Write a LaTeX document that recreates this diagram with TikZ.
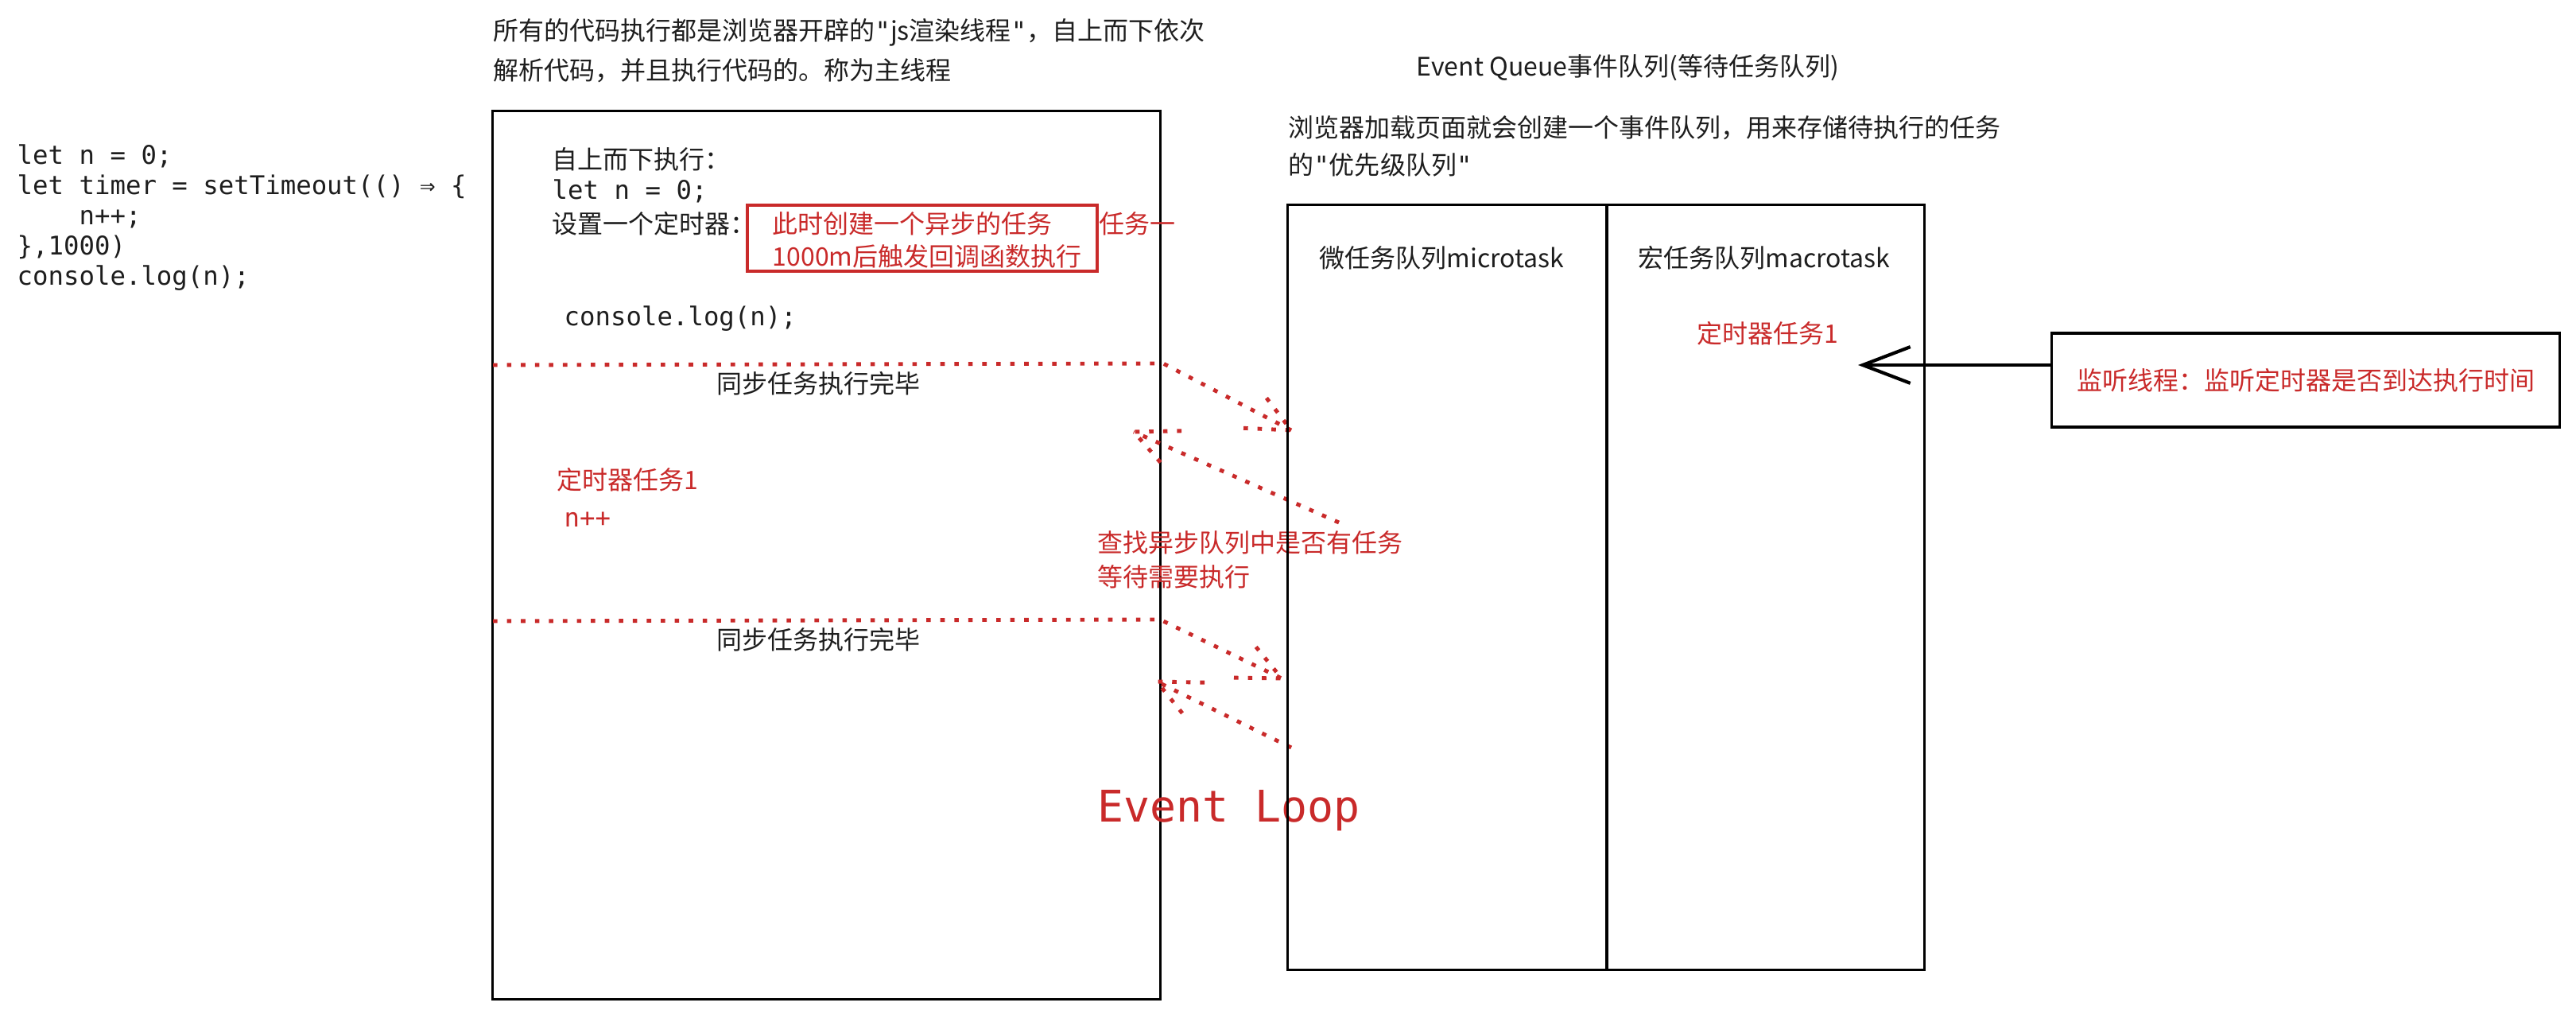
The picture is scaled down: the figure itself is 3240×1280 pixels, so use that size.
\documentclass[tikz,border=0pt]{standalone}
\usepackage{fontspec}
\setmainfont{Noto Sans CJK SC}
\setmonofont{DejaVu Sans Mono}
\newfontfamily\qf{DejaVu Sans Mono}
\newcommand{\sq}{{\qf"}}
\usetikzlibrary{calc,arrows.meta}
\definecolor{exred}{RGB}{201,42,42}
\definecolor{ink}{RGB}{30,30,30}
\begin{document}
\begin{tikzpicture}[x=0.01cm,y=-0.01cm,
  txt/.style={anchor=west,inner sep=0,text=ink,font=\fontsize{9.1}{11}\selectfont},
  code/.style={txt,font=\ttfamily\fontsize{9.2}{10.8}\selectfont},
  redtxt/.style={txt,text=exred},
  box/.style={draw=black,line width=0.9pt,inner sep=0,rectangle},
  dots/.style={draw=exred,line width=1.4pt,dash pattern=on 1.6pt off 3.4pt},
  barb/.style={dots},
]
\fill[white] (0,0) rectangle (3240,1280);
\useasboundingbox (0,0) rectangle (3240,1280);

% left code
\node[code,align=left] (src) at (21,274) {let n = 0;\\let timer = setTimeout(() ⇒ \{\\\hspace*{2.408em}n++;\\\},1000)\\console.log(n);};

% header
\node[txt] (head1) at (620,41) {所有的代码执行都是浏览器开辟的\sq js渲染线程\sq，自上而下依次};
\node[txt] (head2) at (620,89) {解析代码，并且执行代码的。称为主线程};

% main thread box
\node[box,minimum width=8.39cm,minimum height=11.16cm] (main) at (1039.5,698) {};
\node[txt] (t1) at (694,200) {自上而下执行：};
\node[code] (t2) at (694,240) {let n = 0;};
\node[txt] (t3) at (694,281) {设置一个定时器：};
\node[box,draw=exred,line width=1pt,minimum width=4.4cm,minimum height=0.83cm] (redbox) at (1160,299.5) {};
\node[redtxt] (r1) at (971,281) {此时创建一个异步的任务};
\node[redtxt] (r2) at (971,322) {1000m后触发回调函数执行};
\node[redtxt] (r3) at (1382,281) {任务一};
\node[code] (t4) at (709,401) {console.log(n);};

% first sync end
\coordinate (d1a) at (620,459);
\coordinate (d1b) at (1463,457);
\coordinate (d1c) at (1624,541);
\draw[dots] (d1a) -- (d1b) -- (d1c);
\draw[barb] ($(d1c)!0.6cm!25:(d1b)$) -- (d1c) -- ($(d1c)!0.6cm!-25:(d1b)$);
\node[txt] (s1) at (901,482) {同步任务执行完毕};

% back arrow 1
\coordinate (d2a) at (1684,657);
\coordinate (d2b) at (1426,543);
\draw[dots] (d2a) -- (d2b);
\draw[barb] ($(d2b)!0.6cm!25:(d2a)$) -- (d2b) -- ($(d2b)!0.6cm!-25:(d2a)$);

\node[redtxt] (tm1) at (700,603) {定时器任务1};
\node[code,text=exred] (np) at (709,653) {n++};
\node[redtxt] (q1) at (1380,682) {查找异步队列中是否有任务};
\node[redtxt] (q2) at (1380,725) {等待需要执行};

% second sync end
\coordinate (d3a) at (620,781);
\coordinate (d3b) at (1459,779);
\coordinate (d3c) at (1612,853);
\draw[dots] (d3a) -- (d3b) -- (d3c);
\draw[barb] ($(d3c)!0.6cm!25:(d3b)$) -- (d3c) -- ($(d3c)!0.6cm!-25:(d3b)$);
\node[txt] (s2) at (901,804) {同步任务执行完毕};

% back arrow 2
\coordinate (d4a) at (1624,940);
\coordinate (d4b) at (1455,857);
\draw[dots] (d4a) -- (d4b);
\draw[barb] ($(d4b)!0.6cm!25:(d4a)$) -- (d4b) -- ($(d4b)!0.6cm!-25:(d4a)$);

\node[code,text=exred,font=\ttfamily\fontsize{15.6}{18}\selectfont] (el) at (1380,1019) {Event Loop};

% event queue
\node[txt] (eq) at (1781,85) {Event Queue事件队列(等待任务队列)};
\node[txt] (bq1) at (1620,161) {浏览器加载页面就会创建一个事件队列，用来存储待执行的任务};
\node[txt] (bq2) at (1620,207) {的\sq 优先级队列\sq};
\node[box,minimum width=4.01cm,minimum height=9.61cm] (micro) at (1820.5,738.5) {};
\node[box,minimum width=3.99cm,minimum height=9.61cm] (macro) at (2220.5,738.5) {};
\node[txt] (mic) at (1659,324) {微任务队列microtask};
\node[txt] (mac) at (2060,324) {宏任务队列macrotask};
\node[redtxt] (tm2) at (2134,419) {定时器任务1};

% listener
\node[box,minimum width=6.38cm,minimum height=1.18cm] (listen) at (2900,478) {};
\node[redtxt,anchor=center] (lt) at (listen.center) {监听线程：监听定时器是否到达执行时间};
\coordinate (ah) at (2337,459);
\draw[draw=black,line width=1.2pt,-{Straight Barb[length=17pt,width=13pt]}] (listen.west |- ah) -- (ah);
\end{tikzpicture}
\end{document}
